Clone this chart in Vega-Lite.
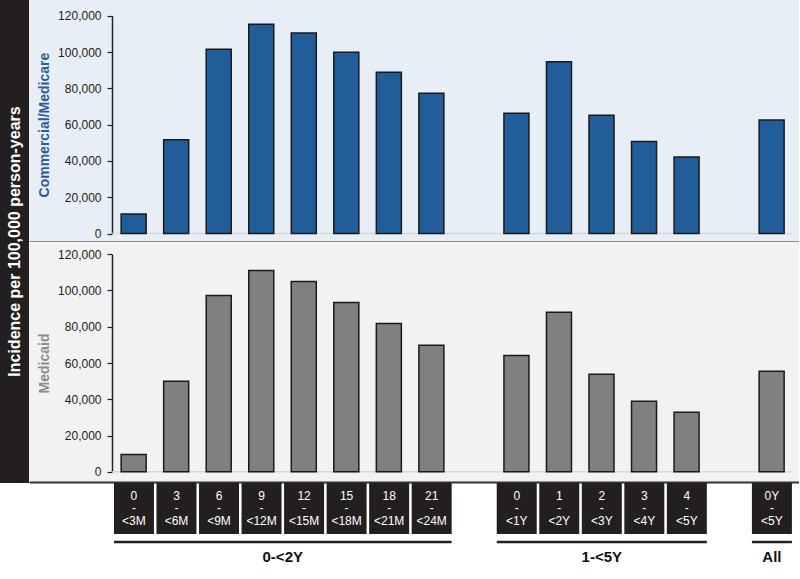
{
  "$schema": "https://vega.github.io/schema/vega-lite/v6.json",
  "padding": 0,
  "background": "white",
  "config": {
    "font": "Liberation Sans",
    "view": {"stroke": null},
    "concat": {"spacing": 0}
  },
  "datasets": {
    "rates": [
      {"id": "0-<3M", "label": "0\n-\n<3M", "commercial": 10700, "medicaid": 9500},
      {"id": "3-<6M", "label": "3\n-\n<6M", "commercial": 51600, "medicaid": 50000},
      {"id": "6-<9M", "label": "6\n-\n<9M", "commercial": 101500, "medicaid": 97200},
      {"id": "9-<12M", "label": "9\n-\n<12M", "commercial": 115300, "medicaid": 111000},
      {"id": "12-<15M", "label": "12\n-\n<15M", "commercial": 110400, "medicaid": 105000},
      {"id": "15-<18M", "label": "15\n-\n<18M", "commercial": 99900, "medicaid": 93400},
      {"id": "18-<21M", "label": "18\n-\n<21M", "commercial": 88900, "medicaid": 81800},
      {"id": "21-<24M", "label": "21\n-\n<24M", "commercial": 77300, "medicaid": 69800},
      {"id": "0-<1Y", "label": "0\n-\n<1Y", "commercial": 66200, "medicaid": 64100},
      {"id": "1-<2Y", "label": "1\n-\n<2Y", "commercial": 94600, "medicaid": 88000},
      {"id": "2-<3Y", "label": "2\n-\n<3Y", "commercial": 65200, "medicaid": 53800},
      {"id": "3-<4Y", "label": "3\n-\n<4Y", "commercial": 50700, "medicaid": 38900},
      {"id": "4-<5Y", "label": "4\n-\n<5Y", "commercial": 42100, "medicaid": 32900},
      {"id": "0Y-<5Y", "label": "0Y\n-\n<5Y", "commercial": 62600, "medicaid": 55500}
    ]
  },
  "resolve": {"scale": {"x": "independent", "y": "independent"}},
  "hconcat": [
    {
      "width": 29,
      "height": 483,
      "view": {"fill": "#231f20", "stroke": null},
      "data": {"values": [{"t": "Incidence per 100,000 person-years"}]},
      "mark": {"type": "text", "angle": 270, "color": "white", "fontSize": 16, "fontWeight": "bold", "align": "center", "baseline": "middle"},
      "encoding": {"text": {"field": "t"}}
    },
    {
      "spacing": 0,
      "resolve": {"scale": {"x": "independent", "y": "independent"}},
      "vconcat": [
        {
          "width": 770,
          "height": 242,
          "view": {"fill": "#e8eef5", "stroke": null},
          "data": {"name": "rates"},
          "layer": [
            {
              "data": {"values": [{"from": "0-<3M", "to": "0Y-<5Y"}]},
              "mark": {"type": "rule", "color": "#d9d9d9", "strokeWidth": 1.5},
              "encoding": {
                "x": {"field": "from", "type": "nominal", "bandPosition": -0.356,
                  "scale": {"domain": ["gap0","0-<3M","3-<6M","6-<9M","9-<12M","12-<15M","15-<18M","18-<21M","21-<24M","gapA","0-<1Y","1-<2Y","2-<3Y","3-<4Y","4-<5Y","gapB","0Y-<5Y"], "paddingInner": 0.412, "paddingOuter": 0.758, "align": 0.7695},
                  "axis": {"title": null, "labels": false, "ticks": false, "domainColor": "#333", "domainWidth": 2}},
                "x2": {"field": "to", "bandPosition": 1.31},
                "y": {"datum": 0, "type": "quantitative",
                  "scale": {"domain": [0, 120000], "range": [233.5, 15.7], "nice": false},
                  "axis": {"title": "Commercial/Medicare", "titleColor": "#2b5c9a", "titleFontSize": 14, "titleFontWeight": "bold", "titlePadding": 6, "offset": -83, "values": [0, 20000, 40000, 60000, 80000, 100000, 120000], "format": ",.0f", "labelFontSize": 12, "labelColor": "#222", "labelPadding": 6, "tickSize": 5, "tickColor": "#222", "tickWidth": 1.2, "domainColor": "#222", "domainWidth": 1.5, "grid": false}}
              }
            },
            {
              "mark": {"type": "bar", "fill": "#215e99", "stroke": "#1a1a1a", "strokeWidth": 1.5},
              "encoding": {
                "x": {"field": "id", "type": "nominal",
                  "scale": {"domain": ["gap0","0-<3M","3-<6M","6-<9M","9-<12M","12-<15M","15-<18M","18-<21M","21-<24M","gapA","0-<1Y","1-<2Y","2-<3Y","3-<4Y","4-<5Y","gapB","0Y-<5Y"], "paddingInner": 0.412, "paddingOuter": 0.758, "align": 0.7695},
                  "axis": {"title": null, "labels": false, "ticks": false, "domainColor": "#333", "domainWidth": 2}},
                "y": {"field": "commercial", "type": "quantitative",
                  "scale": {"domain": [0, 120000], "range": [233.5, 15.7], "nice": false},
                  "axis": {"title": "Commercial/Medicare", "titleColor": "#2b5c9a", "titleFontSize": 14, "titleFontWeight": "bold", "titlePadding": 6, "offset": -83, "values": [0, 20000, 40000, 60000, 80000, 100000, 120000], "format": ",.0f", "labelFontSize": 12, "labelColor": "#222", "labelPadding": 6, "tickSize": 5, "tickColor": "#222", "tickWidth": 1.2, "domainColor": "#222", "domainWidth": 1.5, "grid": false}}
              }
            }
          ]
        },
        {
          "width": 770,
          "height": 240,
          "view": {"fill": "#f2f2f2", "stroke": null},
          "data": {"name": "rates"},
          "layer": [
            {
              "data": {"values": [{"from": "0-<3M", "to": "0Y-<5Y"}]},
              "mark": {"type": "rule", "color": "#d9d9d9", "strokeWidth": 1.5},
              "encoding": {
                "x": {"field": "from", "type": "nominal", "bandPosition": -0.356,
                  "scale": {"domain": ["gap0","0-<3M","3-<6M","6-<9M","9-<12M","12-<15M","15-<18M","18-<21M","21-<24M","gapA","0-<1Y","1-<2Y","2-<3Y","3-<4Y","4-<5Y","gapB","0Y-<5Y"], "paddingInner": 0.412, "paddingOuter": 0.758, "align": 0.7695},
                  "axis": {"title": null, "labels": false, "ticks": false, "domainColor": "#333", "domainWidth": 2}},
                "x2": {"field": "to", "bandPosition": 1.31},
                "y": {"datum": 0, "type": "quantitative",
                  "scale": {"domain": [0, 120000], "range": [229.8, 12.2], "nice": false},
                  "axis": {"title": "Medicaid", "titleColor": "#8c8c8c", "titleFontSize": 14, "titleFontWeight": "bold", "titlePadding": 6, "offset": -83, "values": [0, 20000, 40000, 60000, 80000, 100000, 120000], "format": ",.0f", "labelFontSize": 12, "labelColor": "#222", "labelPadding": 6, "tickSize": 5, "tickColor": "#222", "tickWidth": 1.2, "domainColor": "#222", "domainWidth": 1.5, "grid": false}}
              }
            },
            {
              "mark": {"type": "bar", "fill": "#808080", "stroke": "#1a1a1a", "strokeWidth": 1.5},
              "encoding": {
                "x": {"field": "id", "type": "nominal",
                  "scale": {"domain": ["gap0","0-<3M","3-<6M","6-<9M","9-<12M","12-<15M","15-<18M","18-<21M","21-<24M","gapA","0-<1Y","1-<2Y","2-<3Y","3-<4Y","4-<5Y","gapB","0Y-<5Y"], "paddingInner": 0.412, "paddingOuter": 0.758, "align": 0.7695},
                  "axis": {"title": null, "labels": false, "ticks": false, "domainColor": "#333", "domainWidth": 2}},
                "y": {"field": "medicaid", "type": "quantitative",
                  "scale": {"domain": [0, 120000], "range": [229.8, 12.2], "nice": false},
                  "axis": {"title": "Medicaid", "titleColor": "#8c8c8c", "titleFontSize": 14, "titleFontWeight": "bold", "titlePadding": 6, "offset": -83, "values": [0, 20000, 40000, 60000, 80000, 100000, 120000], "format": ",.0f", "labelFontSize": 12, "labelColor": "#222", "labelPadding": 6, "tickSize": 5, "tickColor": "#222", "tickWidth": 1.2, "domainColor": "#222", "domainWidth": 1.5, "grid": false}}
              }
            }
          ]
        },
        {
          "width": 770,
          "height": 94,
          "view": {"stroke": null},
          "layer": [
            {
              "data": {"name": "rates"},
              "mark": {"type": "bar", "color": "#231f20"},
              "encoding": {
                "x": {"field": "id", "type": "nominal",
                  "scale": {"domain": ["gap0","0-<3M","3-<6M","6-<9M","9-<12M","12-<15M","15-<18M","18-<21M","21-<24M","gapA","0-<1Y","1-<2Y","2-<3Y","3-<4Y","4-<5Y","gapB","0Y-<5Y"], "paddingInner": 0.0595, "paddingOuter": 0.582, "align": 0.857},
                  "axis": null},
                "y": {"datum": 1, "type": "quantitative", "scale": {"domain": [0, 94], "reverse": true, "nice": false, "zero": false}, "axis": null},
                "y2": {"datum": 52}
              }
            },
            {
              "data": {"name": "rates"},
              "mark": {"type": "text", "color": "white", "fontSize": 12, "lineBreak": "\n", "lineHeight": 12.5, "align": "center", "baseline": "middle"},
              "encoding": {
                "x": {"field": "id", "type": "nominal"},
                "y": {"datum": 13.5, "type": "quantitative"},
                "text": {"field": "label"}
              }
            },
            {
              "data": {"values": [
                {"first": "0-<3M", "last": "21-<24M"},
                {"first": "0-<1Y", "last": "4-<5Y"},
                {"first": "0Y-<5Y", "last": "0Y-<5Y"}
              ]},
              "mark": {"type": "rule", "color": "#222", "strokeWidth": 2.5},
              "encoding": {
                "x": {"field": "first", "type": "nominal", "bandPosition": 0},
                "x2": {"field": "last", "bandPosition": 1},
                "y": {"datum": 60, "type": "quantitative"}
              }
            },
            {
              "data": {"values": [{"group": "0-<2Y", "mid": "9-<12M"}]},
              "mark": {"type": "text", "color": "#111", "fontSize": 15, "fontWeight": "bold", "align": "center", "baseline": "middle"},
              "encoding": {
                "x": {"field": "mid", "type": "nominal", "bandPosition": 1.03},
                "y": {"datum": 75, "type": "quantitative"},
                "text": {"field": "group"}
              }
            },
            {
              "data": {"values": [{"group": "1-<5Y", "mid": "2-<3Y"}, {"group": "All", "mid": "0Y-<5Y"}]},
              "mark": {"type": "text", "color": "#111", "fontSize": 15, "fontWeight": "bold", "align": "center", "baseline": "middle"},
              "encoding": {
                "x": {"field": "mid", "type": "nominal", "bandPosition": 0.5},
                "y": {"datum": 75, "type": "quantitative"},
                "text": {"field": "group"}
              }
            }
          ]
        }
      ]
    }
  ]
}
